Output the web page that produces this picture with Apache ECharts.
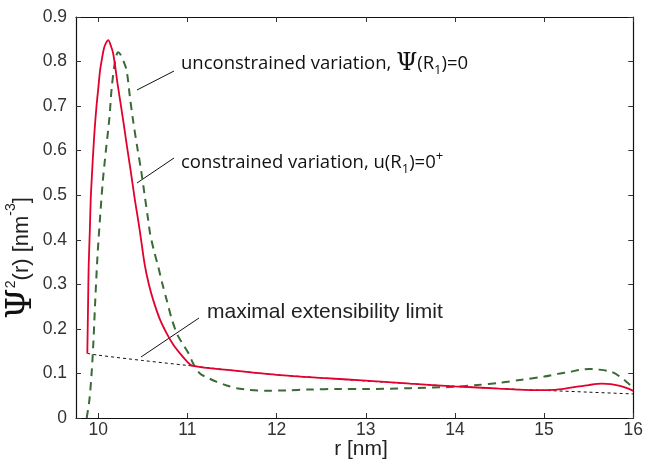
<!DOCTYPE html>
<html>
<head>
<meta charset="utf-8">
<script src="https://cdn.jsdelivr.net/npm/echarts@6/dist/echarts.min.js"></script>
<style>
html, body { margin: 0; padding: 0; background: #fff; }
#chart { width: 646px; height: 468px; }
</style>
</head>
<body>
<div id="chart"></div>
<script>
// tick values
var xTicks = [10, 11, 12, 13, 14, 15, 16];
var yTicks = [0, 0.1, 0.2, 0.3, 0.4, 0.5, 0.6, 0.7, 0.8, 0.9];

// constrained variation (red, solid)
var constrained_r = [9.877, 9.885, 9.892, 9.905, 9.915, 9.93, 9.944, 9.96, 9.98, 10.0, 10.02, 10.04, 10.064, 10.09, 10.112, 10.14, 10.168, 10.22, 10.28, 10.32, 10.363, 10.41, 10.448, 10.48, 10.52, 10.567, 10.617, 10.69, 10.767, 10.84, 10.916, 10.99, 11.06, 11.5, 12, 12.5, 13, 13.5, 14, 14.5, 14.9, 15.1, 15.3, 15.5, 15.65, 15.75, 15.85, 15.93, 16];
var constrained_v = [0.145, 0.25, 0.34, 0.42, 0.49, 0.55, 0.60, 0.65, 0.70, 0.74, 0.78, 0.805, 0.83, 0.843, 0.848, 0.836, 0.817, 0.745, 0.667, 0.612, 0.555, 0.49, 0.443, 0.40, 0.345, 0.30, 0.264, 0.222, 0.19, 0.165, 0.145, 0.128, 0.117, 0.107, 0.097, 0.09, 0.084, 0.077, 0.071, 0.066, 0.0625, 0.063, 0.068, 0.074, 0.077, 0.076, 0.072, 0.067, 0.061];

// unconstrained variation (green, dashed)
var unconstrained_r = [9.87, 9.9, 9.925, 9.945, 9.965, 9.99, 10.02, 10.05, 10.085, 10.123, 10.15, 10.18, 10.205, 10.224, 10.25, 10.285, 10.318, 10.355, 10.39, 10.435, 10.48, 10.52, 10.56, 10.58, 10.625, 10.673, 10.72, 10.767, 10.82, 10.88, 10.95, 11.01, 11.07, 11.14, 11.23, 11.33, 11.44, 11.55, 11.7, 11.89, 12.1, 12.37, 12.7, 13, 13.5, 14, 14.25, 14.5, 14.75, 15, 15.15, 15.3, 15.4, 15.5, 15.6, 15.75, 15.85, 15.93, 16];
var unconstrained_v = [0, 0.04, 0.1, 0.17, 0.26, 0.36, 0.45, 0.53, 0.6, 0.67, 0.74, 0.79, 0.815, 0.821, 0.815, 0.80, 0.78, 0.72, 0.668, 0.61, 0.556, 0.50, 0.444, 0.415, 0.375, 0.339, 0.30, 0.265, 0.225, 0.19, 0.165, 0.146, 0.12, 0.10, 0.09, 0.081, 0.073, 0.067, 0.063, 0.061, 0.062, 0.064, 0.065, 0.065, 0.067, 0.070, 0.074, 0.079, 0.086, 0.093, 0.099, 0.104, 0.108, 0.11, 0.109, 0.104, 0.093, 0.08, 0.067];

// maximal extensibility limit (black, dotted)
var limit_r = [9.877, 10, 10.5, 11, 11.5, 12, 12.5, 13, 13.5, 14, 14.5, 15, 15.5, 16];
var limit_v = [0.145, 0.141, 0.129, 0.118, 0.107, 0.097, 0.09, 0.083, 0.077, 0.071, 0.066, 0.062, 0.058, 0.054];

function zip(a, b) {
	var out = [];
	for (var i = 0; i < a.length; i++) out.push([a[i], b[i]]);
	return out;
}

var tickFont = 'Liberation Sans';
var noteFont = 'Open Sans';

var chart = echarts.init(document.getElementById('chart'));

var axisLineStyle = { color: '#111', width: 1.2 };
var tickStyle = { inside: true, length: 5, lineStyle: { color: '#333', width: 1 } };

var option = {
	animation: false,
	grid: { left: 76, right: 12, top: 17, bottom: 50, containLabel: false },
	xAxis: [{
		type: 'value', min: 9.75, max: 16,
		axisLine: { show: true, onZero: false, lineStyle: axisLineStyle },
		axisTick: Object.assign({ customValues: xTicks }, tickStyle),
		axisLabel: { customValues: xTicks, margin: 3, fontFamily: tickFont, fontSize: 17.5, color: '#333' },
		splitLine: { show: false }
	}, {
		type: 'value', min: 9.75, max: 16, position: 'top',
		axisLine: { show: true, onZero: false, lineStyle: axisLineStyle },
		axisTick: Object.assign({ customValues: xTicks }, tickStyle),
		axisLabel: { show: false },
		splitLine: { show: false }
	}],
	yAxis: [{
		type: 'value', min: 0, max: 0.9, interval: 0.1,
		axisLine: { show: true, onZero: false, lineStyle: axisLineStyle },
		axisTick: tickStyle,
		axisLabel: {
			margin: 9, fontFamily: tickFont, fontSize: 17.5, color: '#333',
			formatter: function (v) { return yTicks.indexOf(Math.round(v * 10) / 10) >= 0 ? String(Math.round(v * 10) / 10) : ''; }
		},
		splitLine: { show: false }
	}, {
		type: 'value', min: 0, max: 0.9, interval: 0.1, position: 'right',
		axisLine: { show: true, onZero: false, lineStyle: axisLineStyle },
		axisTick: tickStyle,
		axisLabel: { show: false },
		splitLine: { show: false }
	}],
	series: [{
		name: 'limit', type: 'line', data: zip(limit_r, limit_v),
		showSymbol: false, smooth: 0.3, z: 1,
		lineStyle: { color: '#111', width: 1, type: [3, 3] }
	}, {
		name: 'unconstrained', type: 'line', data: zip(unconstrained_r, unconstrained_v),
		showSymbol: false, smooth: 0.3, z: 2,
		lineStyle: { color: '#3a6a36', width: 2, type: [8, 6] }
	}, {
		name: 'constrained', type: 'line', data: zip(constrained_r, constrained_v),
		showSymbol: false, smooth: 0.3, z: 3,
		lineStyle: { color: '#e3002c', width: 1.8 }
	}],
	graphic: [
		// y axis title
		{
			type: 'text', x: 22, y: 258, rotation: Math.PI / 2,
			style: {
				text: '{psi|Ψ}{sup|2}{t|(r) [nm}{sup|-3}{t|]}',
				align: 'center', verticalAlign: 'middle',
				rich: {
					psi: { fontFamily: 'DejaVu Serif', fontSize: 35, fill: '#111', lineHeight: 36 },
					t: { fontFamily: tickFont, fontSize: 22, fill: '#222', lineHeight: 36 },
					sup: { fontFamily: tickFont, fontSize: 14, fill: '#222', verticalAlign: 'top', lineHeight: 36 }
				}
			}
		},
		// x axis title
		{
			type: 'text', x: 361, y: 449,
			style: { text: 'r [nm]', align: 'center', verticalAlign: 'middle', font: '21px "Liberation Sans"', fill: '#222' }
		},
		// annotations
		{ type: 'line', shape: { x1: 137, y1: 90, x2: 174, y2: 71 }, style: { stroke: '#111', lineWidth: 1 } },
		{
			type: 'text', x: 181, y: 64,
			style: {
				text: '{t|unconstrained variation, }{psi|Ψ}{t|(R}{sub|1}{t|)=0}',
				verticalAlign: 'middle',
				rich: {
					t: { fontFamily: noteFont, fontSize: 18.5, fill: '#111', lineHeight: 26 },
					psi: { fontFamily: 'DejaVu Serif', fontSize: 24, fill: '#111', lineHeight: 26 },
					sub: { fontFamily: noteFont, fontSize: 13, fill: '#111', verticalAlign: 'bottom', lineHeight: 26 }
				}
			}
		},
		{ type: 'line', shape: { x1: 137, y1: 183, x2: 174, y2: 158 }, style: { stroke: '#111', lineWidth: 1 } },
		{
			type: 'text', x: 181, y: 163,
			style: {
				text: '{t|constrained variation, u(R}{sub|1}{t|)=0}{sup|+}',
				verticalAlign: 'middle',
				rich: {
					t: { fontFamily: noteFont, fontSize: 18.5, fill: '#111', lineHeight: 26 },
					sub: { fontFamily: noteFont, fontSize: 13, fill: '#111', verticalAlign: 'bottom', lineHeight: 26 },
					sup: { fontFamily: noteFont, fontSize: 13, fill: '#111', verticalAlign: 'top', lineHeight: 26 }
				}
			}
		},
		{ type: 'line', shape: { x1: 141, y1: 357, x2: 199, y2: 318 }, style: { stroke: '#111', lineWidth: 1 } },
		{
			type: 'text', x: 207, y: 312,
			style: {
				text: 'maximal extensibility limit',
				verticalAlign: 'middle',
				font: '21px "Liberation Sans"', fill: '#222'
			}
		}
	]
};
chart.setOption(option);
</script>
</body>
</html>
